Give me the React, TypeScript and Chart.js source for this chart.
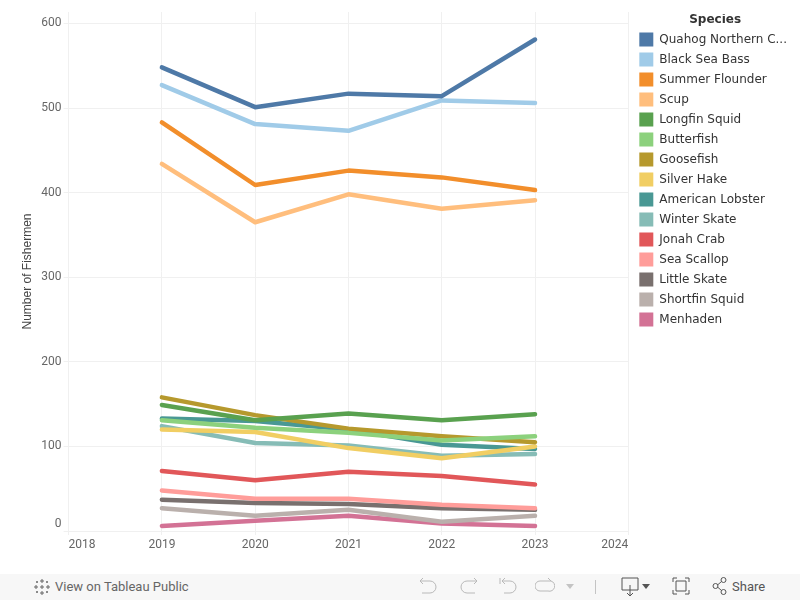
import React, { useEffect, useRef } from "react";
import { Chart, registerables } from "chart.js";

Chart.register(...registerables);

const years = [2019, 2020, 2021, 2022, 2023];
const xTicks = [2018, 2019, 2020, 2021, 2022, 2023, 2024];
const yTicks = [0, 100, 200, 300, 400, 500, 600];

const species = [
  "Quahog Northern C...", "Black Sea Bass", "Summer Flounder", "Scup", "Longfin Squid",
  "Butterfish", "Goosefish", "Silver Hake", "American Lobster", "Winter Skate",
  "Jonah Crab", "Sea Scallop", "Little Skate", "Shortfin Squid", "Menhaden",
];
const colors = [
  "#4e79a7", "#a0cbe8", "#f28e2b", "#ffbe7d", "#59a14f",
  "#8cd17d", "#b6992d", "#f1ce63", "#499894", "#86bcb6",
  "#e15759", "#ff9d9a", "#79706e", "#bab0ac", "#d37295",
];

const quahog = [548, 501, 517, 514, 581];
const blackSeaBass = [527, 481, 473, 509, 506];
const summerFlounder = [483, 409, 426, 418, 403];
const scup = [434, 365, 398, 381, 391];
const longfinSquid = [149, 131, 139, 131, 138];
const butterfish = [131, 122, 116, 107, 112];
const goosefish = [158, 137, 121, 112, 105];
const silverHake = [120, 117, 98, 86, 100];
const americanLobster = [133, 130, 120, 102, 97];
const winterSkate = [124, 104, 101, 89, 91];
const jonahCrab = [71, 60, 70, 65, 55];
const seaScallop = [48, 38, 38, 31, 27];
const littleSkate = [37, 33, 32, 27, 25];
const shortfinSquid = [27, 18, 25, 11, 18];
const menhaden = [6, 12, 18, 9, 6];

const allValues = [
  quahog, blackSeaBass, summerFlounder, scup, longfinSquid,
  butterfish, goosefish, silverHake, americanLobster, winterSkate,
  jonahCrab, seaScallop, littleSkate, shortfinSquid, menhaden,
];

const GRID = "#f0f0f0";
const TICK_TEXT = "#666666";

function Icon({ d, color = "#b9b9b9", w = 20 }: { d: string; color?: string; w?: number }) {
  return (
    <svg width={w} height={20} viewBox={`0 0 ${w} 20`} style={{ display: "block" }}>
      <path d={d} fill="none" stroke={color} strokeWidth={1} />
    </svg>
  );
}

function abs(x: number, node: React.ReactNode, key: string) {
  return (
    <div key={key} style={{ position: "absolute", left: x, top: 3 }}>
      {node}
    </div>
  );
}

const legendPlacement = {
  id: "legendPlacement",
  afterLayout(chart: any) {
    const l = chart.legend;
    l.left += 5;
    l.right += 5;
    l.top += 2;
    if (l.columnSizes && l.columnSizes[0]) l.columnSizes[0].width -= 6;
  },
};

export default function App() {
  const ref = useRef<HTMLCanvasElement>(null);

  useEffect(() => {
    document.body.style.margin = "0";
    const chart = new Chart(ref.current!, {
      type: "line",
      plugins: [legendPlacement],
      data: {
        datasets: species.map((name, i) => ({
          label: name,
          data: years.map((y, j) => ({ x: y, y: allValues[i][j] })),
          borderColor: colors[i],
          backgroundColor: colors[i],
          borderWidth: 4.5,
          borderCapStyle: "round" as const,
          borderJoinStyle: "round" as const,
          pointRadius: 0,
          tension: 0,
          clip: false as const,
        })),
      },
      options: {
        responsive: false,
        animation: false,
        parsing: false as any,
        layout: { padding: { top: 12, right: 8, left: 0, bottom: 0 } },
        plugins: {
          tooltip: { enabled: false },
          legend: {
            position: "right",
            align: "start",
            title: {
              display: true,
              text: "Species",
              color: "#333333",
              font: { family: "'DejaVu Sans'", size: 12, weight: "bold" },
              padding: { top: 0, bottom: -2 },
            },
            labels: {
              boxWidth: 14,
              boxHeight: 14,
              padding: 6,
              color: "#444444",
              font: { family: "'DejaVu Sans'", size: 12, lineHeight: 1.1667 },
              generateLabels: () =>
                species.map((name, i) => ({
                  text: name,
                  fillStyle: colors[i],
                  strokeStyle: colors[i],
                  lineWidth: 0,
                  datasetIndex: i,
                })),
            },
          },
        },
        scales: {
          x: {
            type: "linear",
            min: 2018,
            max: 2024,
            afterBuildTicks: (scale: any) => {
              scale.ticks = xTicks.map((value) => ({ value }));
            },
            afterFit: (scale: any) => {
              scale.height = 43;
            },
            grid: { color: GRID, tickColor: GRID, tickLength: 4 },
            border: { color: GRID },
            ticks: {
              align: "inner",
              padding: 3,
              maxRotation: 0,
              color: TICK_TEXT,
              font: { family: "Roboto", size: 12 },
              callback: (v: any) => String(v),
            },
          },
          y: {
            type: "linear",
            min: 0,
            max: 613.5,
            afterBuildTicks: (scale: any) => {
              scale.ticks = yTicks.map((value) => ({ value }));
            },
            afterFit: (scale: any) => {
              scale.width = 68.6;
            },
            grid: { color: GRID, tickColor: GRID, tickLength: 5 },
            border: { display: false },
            title: {
              display: true,
              text: "Number of Fishermen",
              color: "#444444",
              font: { family: "'Liberation Sans'", size: 12 },
              padding: { top: 20, bottom: 0 },
            },
            ticks: {
              padding: 2,
              color: TICK_TEXT,
              font: { family: "Roboto", size: 12 },
              callback: (v: any) => (v === 0 ? ["0", ""] : String(v)),
            },
          },
        },
      },
    } as any);
    return () => chart.destroy();
  }, []);

  return (
    <div style={{ position: "relative", width: 800, height: 600, overflow: "hidden", background: "#fff" }}>
      <canvas ref={ref} width={800} height={574} style={{ display: "block" }} />
      <div
        style={{
          position: "absolute",
          left: 0,
          top: 574,
          width: 800,
          height: 26,
          background: "#f7f7f7",
          fontFamily: "Roboto, sans-serif",
          fontSize: 13,
          color: "#666",
        }}
      >
        {abs(33, <Icon color="#666" d="M9 2V6M7 4H11M9 14V18M7 16H11M3 8V12M1 10H5M15 8V12M13 10H17M9 8V12M7 10H11M4 4V6M3 5H5M14 4V6M13 5H15M4 14V16M3 15H5M14 14V16M13 15H15" />, "logo")}
        <div style={{ position: "absolute", left: 55, top: 5, whiteSpace: "nowrap" }}>View on Tableau Public</div>
        {abs(419, <Icon d="M1 4H11A6 6 0 0 1 11 16H3M1 4L4 1M1 4L4 7" />, "undo")}
        {abs(459, <Icon d="M18 4H8A6 6 0 0 0 8 16H16M18 4L15 1M18 4L15 7" />, "redo")}
        {abs(499, <Icon d="M1 1V7M3 4H11A6 6 0 0 1 11 16H5M3 4L6 1M3 4L6 7" />, "revert")}
        {abs(535, <Icon d="M16 4H5A5 5 0 0 0 5 14H13A5 5 0 0 0 16 4M16 4L13 1" />, "refresh")}
        <div style={{ position: "absolute", left: 566, top: 10, width: 0, height: 0, borderLeft: "4px solid transparent", borderRight: "4px solid transparent", borderTop: "5px solid #c4c4c4" }} />
        <div style={{ position: "absolute", left: 595, top: 6, width: 1, height: 14, background: "#c4c4c4" }} />
        {abs(621, <Icon color="#555" d="M1 1H17V13H1ZM9 8V19M6 16L9 19L12 16" />, "download")}
        <div style={{ position: "absolute", left: 642, top: 10, width: 0, height: 0, borderLeft: "4.5px solid transparent", borderRight: "4.5px solid transparent", borderTop: "5px solid #555" }} />
        {abs(672, <Icon color="#555" d="M1 5V1H5M13 1H17V5M17 13V17H13M5 17H1V13M4 4H14V14H4Z" />, "fullscreen")}
        {abs(711, <Icon color="#555" d="M2 9A2.5 2.5 0 1 0 7 9A2.5 2.5 0 1 0 2 9M10 3A2.5 2.5 0 1 0 15 3A2.5 2.5 0 1 0 10 3M10 15A2.5 2.5 0 1 0 15 15A2.5 2.5 0 1 0 10 15M6.5 8L10.5 4.5M6.5 10L10.5 13.5" />, "share")}
        <div style={{ position: "absolute", left: 732, top: 5, whiteSpace: "nowrap", color: "#555" }}>Share</div>
      </div>
    </div>
  );
}
